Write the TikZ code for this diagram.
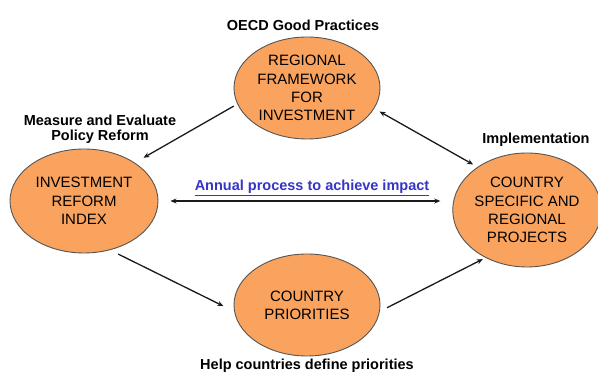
\documentclass[tikz,border=0pt]{standalone}
\usepackage{fontspec}
\setmainfont{Liberation Sans}
\usetikzlibrary{shapes.geometric,arrows.meta}
\definecolor{orfill}{HTML}{F9A35E}
\definecolor{edgegray}{HTML}{555555}
\definecolor{arrowc}{HTML}{1A1A1A}
\definecolor{blueprocess}{HTML}{3535C8}
\tikzset{
  bubble/.style={ellipse, draw=edgegray, line width=0.9pt, fill=orfill, inner sep=0pt,
    align=center, font=\fontsize{15}{18.3}\selectfont, text=black},
  lbl/.style={font=\bfseries\fontsize{14.5}{16}\selectfont, align=center, text=black, inner sep=0pt},
  arr/.style={draw=arrowc, line width=1.3pt, -{Stealth[length=6pt,width=5pt]}},
  darr/.style={draw=arrowc, line width=1.3pt, {Stealth[length=6pt,width=5pt]}-{Stealth[length=6pt,width=5pt]}}
}
\begin{document}
\begin{tikzpicture}[x=1pt,y=1pt]
\useasboundingbox (0,0) rectangle (598,374);
\fill[white] (0,0) rectangle (598,374);

\node[bubble, minimum width=146pt, minimum height=102pt] (top) at (307,286) {REGIONAL\\FRAMEWORK\\FOR\\INVESTMENT};
\node[bubble, minimum width=148pt, minimum height=104pt] (left) at (84,173) {INVESTMENT\\REFORM\\INDEX};
\node[bubble, minimum width=142pt, minimum height=114pt] (right) at (527,164) {COUNTRY\\SPECIFIC AND\\REGIONAL\\PROJECTS};
\node[bubble, minimum width=146pt, minimum height=102pt] (bottom) at (307,69) {COUNTRY\\PRIORITIES};

\node[lbl, anchor=base] (oecd) at (303,343) {OECD Good Practices};
\node[lbl, anchor=base] (meas) at (100,248) {Measure and Evaluate};
\node[lbl, anchor=base] (pol) at (100,233) {Policy Reform};
\node[lbl, anchor=base] (impl) at (536,230) {Implementation};
\node[lbl, anchor=base] (help) at (307,4) {Help countries define priorities};
\node[lbl, anchor=base, text=blueprocess] (annual) at (312,183) {\underline{Annual process to achieve impact}};

\draw[arr, shorten <=4pt, shorten >=10pt] (top.193) -- (left.37);
\draw[darr, shorten <=6pt, shorten >=5pt] (top.343) -- (right.139);
\draw[arr, shorten <=9pt, shorten >=12pt] (left.298) -- (bottom.185);
\draw[arr, shorten <=8pt, shorten >=3pt] (bottom.355) -- (right.229);
\draw[darr, shorten <=12pt, shorten >=12pt] (left.east) -- (left.east -| right.west);
\end{tikzpicture}
\end{document}
